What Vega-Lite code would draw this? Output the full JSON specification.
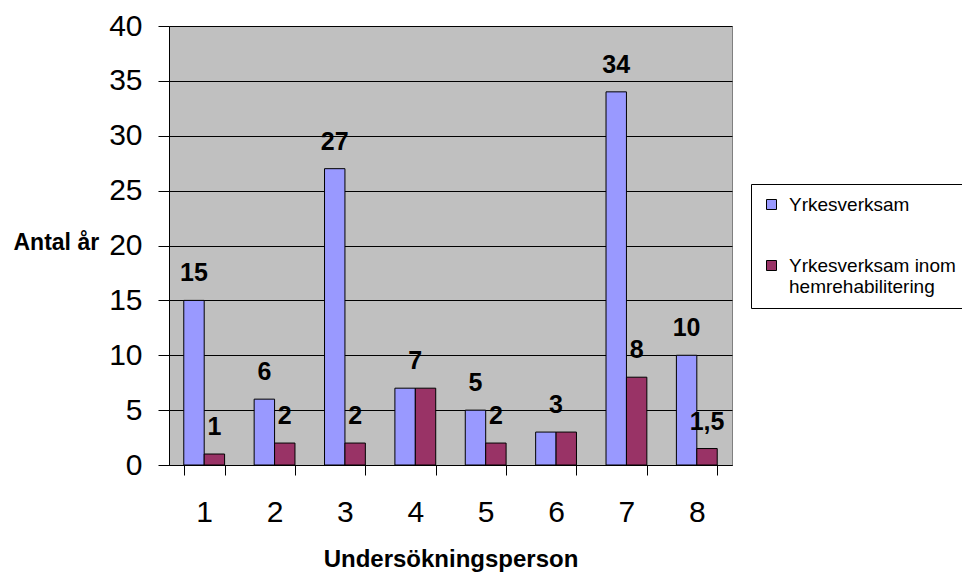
{
  "$schema": "https://vega.github.io/schema/vega-lite/v6.json",
  "width": 563,
  "height": 439,
  "autosize": {"type": "none"},
  "padding": {"left": 169, "top": 26, "right": 230, "bottom": 107},
  "background": "white",
  "data": {
    "values": [
      {"person": "1", "serie": "Yrkesverksam", "antal": 15},
      {"person": "1", "serie": "Yrkesverksam inom hemrehabilitering", "antal": 1},
      {"person": "2", "serie": "Yrkesverksam", "antal": 6},
      {"person": "2", "serie": "Yrkesverksam inom hemrehabilitering", "antal": 2},
      {"person": "3", "serie": "Yrkesverksam", "antal": 27},
      {"person": "3", "serie": "Yrkesverksam inom hemrehabilitering", "antal": 2},
      {"person": "4", "serie": "Yrkesverksam", "antal": 7},
      {"person": "4", "serie": "Yrkesverksam inom hemrehabilitering", "antal": 7},
      {"person": "5", "serie": "Yrkesverksam", "antal": 5},
      {"person": "5", "serie": "Yrkesverksam inom hemrehabilitering", "antal": 2},
      {"person": "6", "serie": "Yrkesverksam", "antal": 3},
      {"person": "6", "serie": "Yrkesverksam inom hemrehabilitering", "antal": 3},
      {"person": "7", "serie": "Yrkesverksam", "antal": 34},
      {"person": "7", "serie": "Yrkesverksam inom hemrehabilitering", "antal": 8},
      {"person": "8", "serie": "Yrkesverksam", "antal": 10},
      {"person": "8", "serie": "Yrkesverksam inom hemrehabilitering", "antal": 1.5}
    ]
  },
  "encoding": {
    "x": {
      "field": "person",
      "type": "ordinal",
      "scale": {"paddingInner": 0.42, "paddingOuter": 0.21},
      "axis": {
        "labelAngle": 0,
        "labelFontSize": 30,
        "labelPadding": 22,
        "labelColor": "black",
        "tickBand": "extent",
        "tickSize": 10,
        "tickColor": "black",
        "domainColor": "black",
        "grid": false,
        "title": "Undersökningsperson",
        "titleFontSize": 24,
        "titleFontWeight": "bold",
        "titleColor": "black",
        "titleX": 281.5,
        "titleY": 101,
        "titleBaseline": "alphabetic"
      }
    },
    "y": {
      "field": "antal",
      "type": "quantitative",
      "scale": {"domain": [0, 40], "nice": false},
      "axis": {
        "values": [0, 5, 10, 15, 20, 25, 30, 35, 40],
        "labelFontSize": 30,
        "labelPadding": 16,
        "labelColor": "black",
        "tickSize": 11,
        "tickColor": "black",
        "domainColor": "black",
        "grid": true,
        "gridColor": "black",
        "gridOpacity": 1,
        "title": "Antal år",
        "titleAngle": 0,
        "titleFontSize": 23,
        "titleFontWeight": "bold",
        "titleColor": "black",
        "titleAlign": "left",
        "titleBaseline": "middle",
        "titleX": -156,
        "titleY": 216
      }
    }
  },
  "layer": [
    {
      "mark": {"type": "bar", "stroke": "black", "strokeWidth": 1},
      "encoding": {
        "xOffset": {"field": "serie", "type": "nominal", "scale": {"paddingInner": 0, "paddingOuter": 0}},
        "color": {
          "field": "serie",
          "type": "nominal",
          "scale": {
            "domain": ["Yrkesverksam", "Yrkesverksam inom hemrehabilitering"],
            "range": ["#9999FF", "#993366"]
          },
          "legend": {
            "title": null,
            "orient": "none",
            "legendX": 582,
            "legendY": 158,
            "fillColor": "white",
            "strokeColor": "black",
            "padding": 11,
            "symbolType": "square",
            "symbolSize": 100,
            "symbolStrokeColor": "black",
            "symbolStrokeWidth": 1,
            "symbolOpacity": 1,
            "labelFontSize": 19,
            "labelColor": "black",
            "labelOffset": 8,
            "labelLimit": 500,
            "rowPadding": 41,
            "labelBaseline": "middle",
            "labelExpr": "datum.value == 'Yrkesverksam' ? datum.label : ['Yrkesverksam inom', 'hemrehabilitering']"
          }
        }
      }
    },
    {
      "transform": [
        {"joinaggregate": [{"op": "max", "field": "antal", "as": "vmax"}, {"op": "min", "field": "antal", "as": "vmin"}], "groupby": ["person"]},
        {"filter": "datum.vmax != datum.vmin"}
      ],
      "mark": {"type": "text", "fontSize": 25, "fontWeight": "bold", "color": "black", "baseline": "alphabetic", "dy": -19},
      "encoding": {
        "xOffset": {"field": "serie", "type": "nominal", "scale": {"paddingInner": 0, "paddingOuter": 0}},
        "text": {"field": "antal", "type": "quantitative", "format": ".1~f"}
      }
    },
    {
      "transform": [
        {"joinaggregate": [{"op": "max", "field": "antal", "as": "vmax"}, {"op": "min", "field": "antal", "as": "vmin"}], "groupby": ["person"]},
        {"filter": "datum.vmax == datum.vmin && datum.serie == 'Yrkesverksam'"}
      ],
      "mark": {"type": "text", "fontSize": 25, "fontWeight": "bold", "color": "black", "baseline": "alphabetic", "dy": -19},
      "encoding": {
        "text": {"field": "antal", "type": "quantitative", "format": ".1~f"}
      }
    }
  ],
  "config": {
    "font": "Liberation Sans",
    "locale": {"number": {"decimal": ",", "thousands": " ", "grouping": [3], "currency": ["", " kr"]}},
    "view": {"fill": "#C0C0C0", "stroke": "#808080", "strokeWidth": 1},
    "axis": {"domainWidth": 1, "tickWidth": 1, "gridWidth": 1}
  }
}
